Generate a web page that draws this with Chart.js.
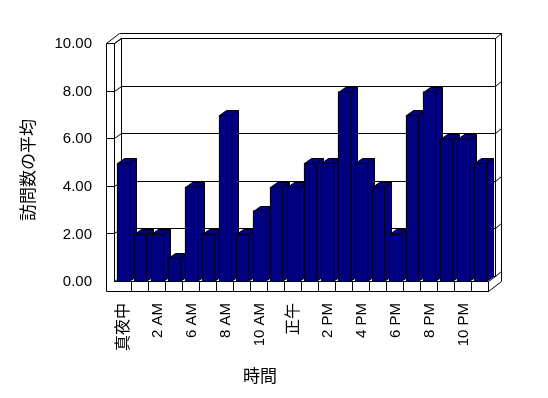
<!DOCTYPE html>
<html lang="ja">
<head>
<meta charset="utf-8">
<script src="https://cdn.jsdelivr.net/npm/chart.js@4.4.1/dist/chart.umd.min.js"></script>
<style>
    html, body { margin: 0; padding: 0; background: #fff; }
</style>
</head>
<body>
<canvas id="chart" width="548" height="398"></canvas>
<script>
const hours = ['真夜中', '1 AM', '2 AM', '3 AM', '6 AM', '7 AM', '8 AM', '9 AM', '10 AM', '11 AM', '正午',
    '1 PM', '2 PM', '3 PM', '4 PM', '5 PM', '6 PM', '7 PM', '8 PM', '9 PM', '10 PM', '11 PM'];
const visits = [5, 2, 2, 1, 4, 2, 7, 2, 3, 4, 4, 5, 5, 8, 5, 4, 2, 7, 8, 6, 6, 5];
const yTicks = [0, 2, 4, 6, 8, 10];
const yTitle = '訪問数の平均';
const xTitle = '時間';

const barColor = '#000080';
const FONT = '"Liberation Sans", "Noto Sans CJK JP", sans-serif';

// 3D box geometry (px)
const DX = 7, DY = 5;        // depth of bars / inner box
const WX = 6, WY = 5;        // back wall thickness
const SIDE_W = 8;            // left wall thickness
const FLOOR_H = 10;          // floor slab thickness

const frame3d = {
    id: 'frame3d',
    beforeDatasetsDraw(chart) {
        const { ctx, chartArea: a, scales } = chart;
        const xs = scales.x, ys = scales.y;
        const L = Math.round(a.left), R = Math.round(a.right);
        const T = Math.round(a.top), B = Math.round(a.bottom);
        const px = v => Math.round(v) - 0.5;

        ctx.save();
        ctx.lineWidth = 1;
        ctx.strokeStyle = '#000';
        const path = (pts, fill) => {
            ctx.beginPath();
            pts.forEach(([x, y], i) => i ? ctx.lineTo(px(x), px(y)) : ctx.moveTo(px(x), px(y)));
            if (fill) {
                ctx.closePath();
                ctx.fillStyle = fill;
                ctx.fill();
            }
            ctx.stroke();
        };

        // grid lines: front tick, side wall, back wall, back wall edge
        yTicks.forEach(v => {
            const yf = Math.round(ys.getPixelForValue(v));
            const pts = [[L, yf], [L + DX, yf - DY], [R + DX, yf - DY], [R + DX + WX, yf - DY - WY]];
            if (v !== 0) pts.unshift([L - SIDE_W, yf]);
            path(pts);
        });

        // walls and floor outline
        path([[L - SIDE_W, T], [L - SIDE_W, B + FLOOR_H], [R, B + FLOOR_H], [R, B], [L, B], [L, T]]);
        path([[L - SIDE_W, T], [L - SIDE_W + DX + WX, T - DY - WY], [R + DX + WX, T - DY - WY],
            [R + DX + WX, B + FLOOR_H - DY - WY], [R, B + FLOOR_H]]);
        path([[L, T], [L + DX, T - DY], [L + DX, B - DY]]);
        path([[R, B], [R + DX, B - DY], [R + DX, T - DY]]);

        // category cells on the floor front
        for (let i = 1; i < hours.length; i++) {
            const cx = (xs.getPixelForValue(i - 1) + xs.getPixelForValue(i)) / 2;
            path([[cx, B], [cx, B + FLOOR_H]]);
        }

        // side and top faces of the bars
        chart.getDatasetMeta(0).data.forEach(bar => {
            const { x, y, base, width } = bar.getProps(['x', 'y', 'base', 'width'], true);
            const l = Math.round(x - width / 2), r = l + Math.round(width);
            const t = Math.round(y), b = Math.round(base);
            path([[r, t + 1], [r + DX, t + 1 - DY], [r + DX, b - DY], [r, b]], barColor);
            path([[l + 1, t + 1], [l + 1 + DX, t + 1 - DY], [r + DX, t + 1 - DY], [r, t + 1]], barColor);
        });
        ctx.restore();
    },
    afterDraw(chart) {
        const { ctx } = chart;
        ctx.save();
        ctx.fillStyle = '#000';
        ctx.font = '17px "Noto Sans CJK JP"';
        ctx.textAlign = 'center';
        ctx.textBaseline = 'middle';
        ctx.fillText(xTitle, 260, 376);
        ctx.translate(28, 170);
        ctx.rotate(-Math.PI / 2);
        ctx.fillText(yTitle, 0, 0);
        ctx.restore();
    }
};

new Chart(document.getElementById('chart'), {
    type: 'bar',
    data: {
        labels: hours,
        datasets: [{
            data: visits,
            backgroundColor: barColor,
            borderColor: '#000',
            borderWidth: 1,
            borderSkipped: false,
            barThickness: 13
        }]
    },
    options: {
        responsive: false,
        devicePixelRatio: 1,
        animation: false,
        layout: { padding: { top: 44, right: 59, left: 0, bottom: 0 } },
        plugins: { legend: { display: false }, tooltip: { enabled: false } },
        scales: {
            x: {
                grid: { display: false, drawTicks: false },
                border: { display: false },
                afterFit: s => { s.height = 116; },
                ticks: {
                    autoSkip: false,
                    minRotation: 90,
                    maxRotation: 90,
                    padding: 21,
                    color: '#000',
                    font: c => ({ family: FONT, size: /[^\x00-\x7f]/.test(hours[c.index] || '') ? 16 : 15 }),
                    callback: (v, i) => i % 2 ? '' : hours[i]
                }
            },
            y: {
                min: 0,
                max: 10,
                grid: { display: false, drawTicks: false },
                border: { display: false },
                afterFit: s => { s.width = 115; },
                afterBuildTicks: s => { s.ticks = yTicks.map(v => ({ value: v })); },
                ticks: {
                    padding: 23,
                    color: '#000',
                    font: { family: FONT, size: 15 },
                    callback: v => v.toFixed(2)
                }
            }
        }
    },
    plugins: [frame3d]
});
</script>
</body>
</html>
